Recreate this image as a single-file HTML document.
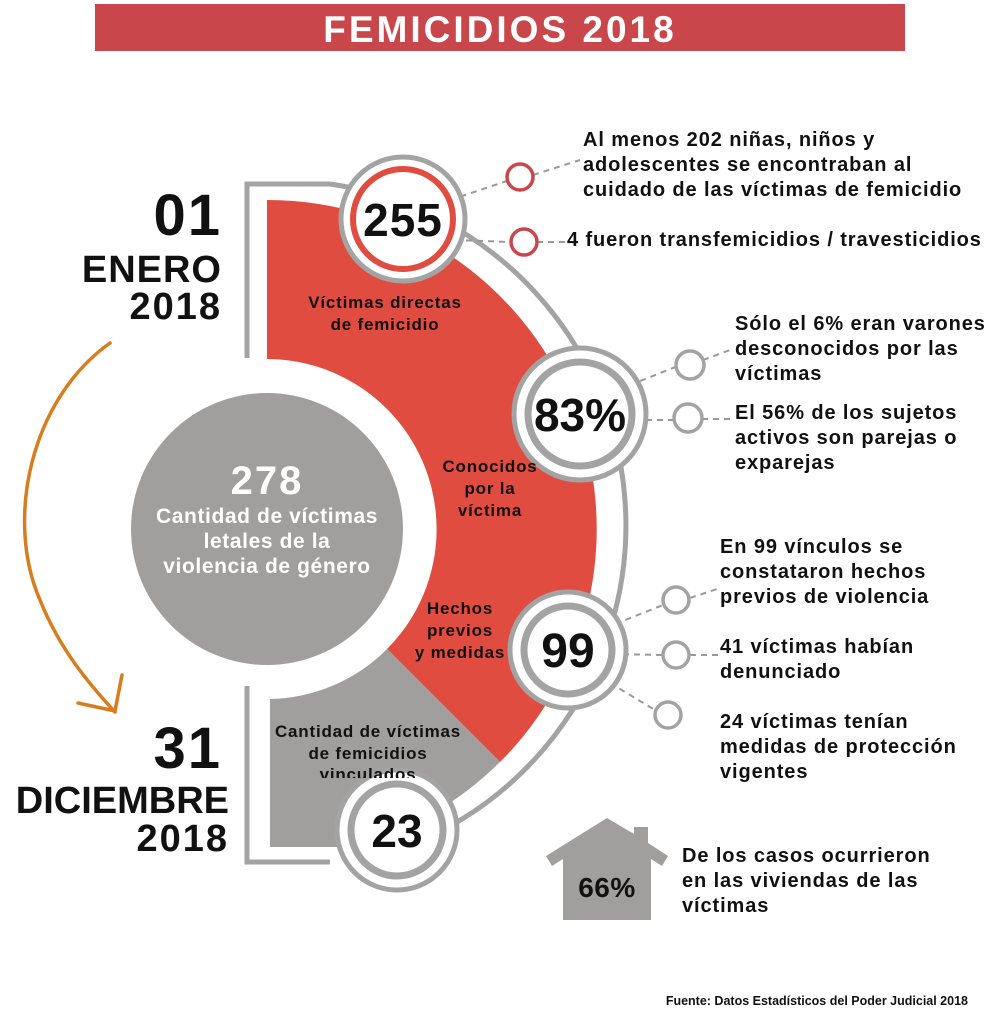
<!DOCTYPE html>
<html><head><meta charset="utf-8"><style>
html,body{margin:0;padding:0;background:#fff;}
svg{display:block;}
text{font-family:"Liberation Sans",Arial,sans-serif;font-weight:bold;}
</style></head><body>
<svg width="1000" height="1028" viewBox="0 0 1000 1028" xmlns="http://www.w3.org/2000/svg">
<rect x="95" y="4" width="810" height="47" fill="#c9474b"/>
<text x="500" y="42" text-anchor="middle" font-size="37" fill="#fff" letter-spacing="3">FEMICIDIOS 2018</text>

<!-- outline -->
<g fill="none" stroke="#a3a3a3" stroke-width="5">
<path d="M247 358 L247 184 L330 184"/>
<path d="M247 686 L247 862 L330 862"/>
<path d="M330 184 A345 345 0 0 1 357 862"/>
</g>

<!-- red sector -->
<path d="M267 200 A329 329 0 0 1 500 762 L387 649 A170 170 0 0 0 267 359 Z" fill="#e04d40"/>
<!-- gray sector -->
<path d="M500 762 L387 649 A170 170 0 0 1 270 699 L270 847 L351 847 A329 329 0 0 0 500 762 Z" fill="#a09f9e"/>
<!-- center gray circle -->
<circle cx="267" cy="529" r="136" fill="#a09f9e"/>

<!-- dashed connectors -->
<g stroke="#999" stroke-width="2" stroke-dasharray="6,5" fill="none">
<line x1="450" y1="200" x2="507" y2="181"/>
<line x1="455" y1="240" x2="510" y2="242"/>
<line x1="533" y1="175" x2="580" y2="160"/>
<line x1="537" y1="242" x2="565" y2="242"/>
<line x1="630" y1="385" x2="678" y2="366"/>
<line x1="635" y1="420" x2="675" y2="420"/>
<line x1="703" y1="360" x2="730" y2="350"/>
<line x1="702" y1="419" x2="730" y2="419"/>
<line x1="605" y1="628" x2="663" y2="605"/>
<line x1="612" y1="654" x2="662" y2="655"/>
<line x1="610" y1="683" x2="655" y2="710"/>
<line x1="690" y1="598" x2="720" y2="588"/>
<line x1="690" y1="655" x2="720" y2="655"/>
</g>

<!-- number circles -->
<circle cx="403" cy="219" r="62" fill="#fff" stroke="#a3a3a3" stroke-width="5"/>
<circle cx="403" cy="219" r="50" fill="#fff" stroke="#e04d40" stroke-width="6"/>
<text x="403" y="236" text-anchor="middle" font-size="46" fill="#111" letter-spacing="1">255</text>

<circle cx="580" cy="414" r="66" fill="#fff" stroke="#a3a3a3" stroke-width="5"/>
<circle cx="580" cy="414" r="52" fill="#fff" stroke="#a3a3a3" stroke-width="7"/>
<text x="580" y="431" text-anchor="middle" font-size="46" fill="#111">83%</text>

<circle cx="568" cy="650" r="58" fill="#fff" stroke="#a3a3a3" stroke-width="5"/>
<circle cx="568" cy="650" r="44" fill="#fff" stroke="#a3a3a3" stroke-width="7"/>
<text x="568" y="667" text-anchor="middle" font-size="48" fill="#111">99</text>

<circle cx="397" cy="830" r="60" fill="#fff" stroke="#a3a3a3" stroke-width="5"/>
<circle cx="397" cy="830" r="46" fill="#fff" stroke="#a3a3a3" stroke-width="7"/>
<text x="397" y="847" text-anchor="middle" font-size="46" fill="#111">23</text>

<!-- small circles -->
<g fill="#fff" stroke-width="3.5">
<circle cx="520" cy="177" r="13" stroke="#c9474b"/>
<circle cx="524" cy="242" r="13" stroke="#c9474b"/>
<circle cx="690" cy="365" r="14" stroke="#a3a3a3"/>
<circle cx="688" cy="418" r="14" stroke="#a3a3a3"/>
<circle cx="676" cy="600" r="13" stroke="#a3a3a3"/>
<circle cx="676" cy="655" r="13" stroke="#a3a3a3"/>
<circle cx="668" cy="715" r="13" stroke="#a3a3a3"/>
</g>

<!-- sector labels -->
<g font-size="17" fill="#111" text-anchor="middle" letter-spacing="0.8">
<text x="385" y="308">Víctimas directas</text>
<text x="385" y="330">de femicidio</text>
<text x="490" y="472">Conocidos</text>
<text x="490" y="494">por la</text>
<text x="490" y="516">víctima</text>
<text x="460" y="614">Hechos</text>
<text x="460" y="636">previos</text>
<text x="460" y="658">y medidas</text>
<text x="368" y="737">Cantidad de víctimas</text>
<text x="368" y="759">de femicidios</text>
</g>
<svg x="250" y="760" width="260" height="18" overflow="hidden"><text x="118" y="20" text-anchor="middle" font-size="17" fill="#111" letter-spacing="0.8">vinculados</text></svg>

<!-- center text -->
<g fill="#fff" text-anchor="middle">
<text x="267" y="494" font-size="40" letter-spacing="2">278</text>
<text x="267" y="523" font-size="21" letter-spacing="0.6">Cantidad de víctimas</text>
<text x="267" y="548" font-size="21" letter-spacing="0.6">letales de la</text>
<text x="267" y="573" font-size="21" letter-spacing="0.6">violencia de género</text>
</g>

<!-- left dates -->
<g fill="#111" text-anchor="end">
<text x="222" y="235" font-size="58" letter-spacing="2">01</text>
<text x="222" y="282" font-size="38" letter-spacing="1">ENERO</text>
<text x="222" y="319" font-size="38" letter-spacing="2">2018</text>
<text x="222" y="768" font-size="58" letter-spacing="2">31</text>
<text x="229" y="813" font-size="38">DICIEMBRE</text>
<text x="229" y="851" font-size="38" letter-spacing="2">2018</text>
</g>

<!-- orange arrow -->
<g fill="none" stroke="#d77d1e" stroke-width="3.5" stroke-linecap="round">
<path d="M110 343 C30 400 5 520 40 600 C60 650 90 685 115 712"/>
<path d="M78 703 L115 711 L122 675"/>
</g>

<!-- right texts -->
<g font-size="20" fill="#111" letter-spacing="0.9">
<text x="583" y="146">Al menos 202 niñas, niños y</text>
<text x="583" y="171">adolescentes se encontraban al</text>
<text x="583" y="196">cuidado de las víctimas de femicidio</text>
<text x="567" y="246">4 fueron transfemicidios / travesticidios</text>
<text x="735" y="330">Sólo el 6% eran varones</text>
<text x="735" y="355">desconocidos por las</text>
<text x="735" y="380">víctimas</text>
<text x="735" y="419">El 56% de los sujetos</text>
<text x="735" y="444">activos son parejas o</text>
<text x="735" y="469">exparejas</text>
<text x="720" y="553">En 99 vínculos se</text>
<text x="720" y="578">constataron hechos</text>
<text x="720" y="603">previos de violencia</text>
<text x="720" y="653">41 víctimas habían</text>
<text x="720" y="678">denunciado</text>
<text x="720" y="728">24 víctimas tenían</text>
<text x="720" y="753">medidas de protección</text>
<text x="720" y="778">vigentes</text>
<text x="682" y="862">De los casos ocurrieron</text>
<text x="682" y="887">en las viviendas de las</text>
<text x="682" y="912">víctimas</text>
</g>

<!-- house -->
<path d="M607 818 L634 834 L634 827 L648 827 L648 843 L668 856 L662 866 L651 859 L651 920 L563 920 L563 859 L552 866 L546 856 Z" fill="#a09f9e"/>
<text x="607" y="897" text-anchor="middle" font-size="28" fill="#111" letter-spacing="0.5">66%</text>

<text x="968" y="1005" text-anchor="end" font-size="12.5" fill="#111">Fuente: Datos Estadísticos del Poder Judicial  2018</text>
</svg>
</body></html>
